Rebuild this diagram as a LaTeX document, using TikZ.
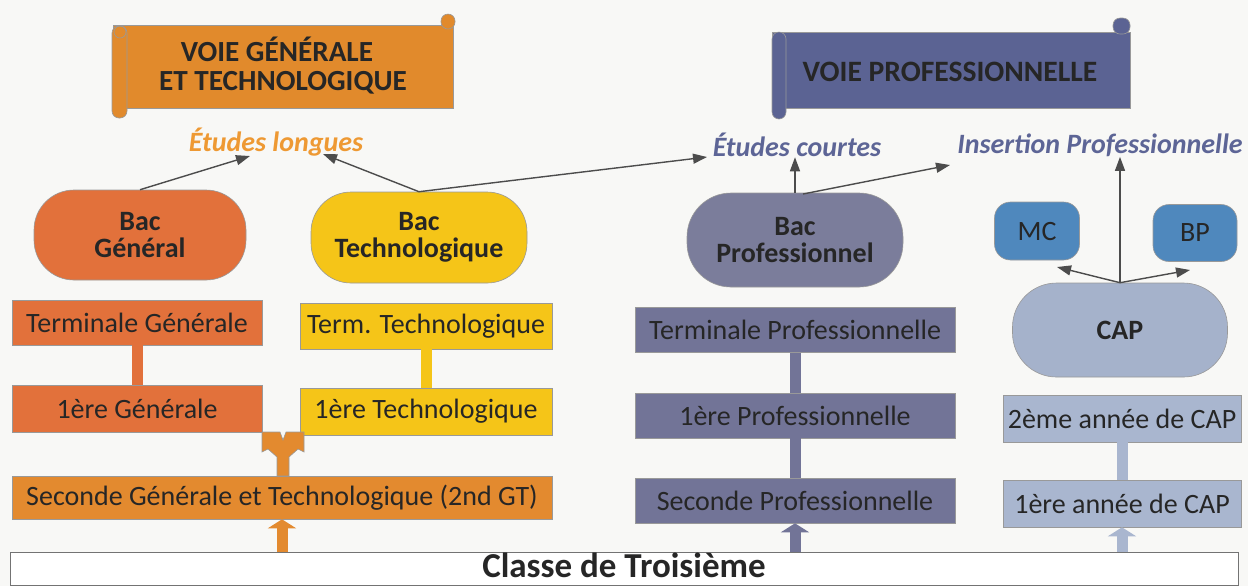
\documentclass[tikz,border=0pt]{standalone}
\usepackage{fontspec}
\setmainfont{Carlito}
\usetikzlibrary{arrows.meta}
\definecolor{bg}{HTML}{F8F8F6}
\definecolor{orng}{HTML}{E18A2C}
\definecolor{elong}{HTML}{EE9933}
\definecolor{redor}{HTML}{E2713B}
\definecolor{yel}{HTML}{F5C518}
\definecolor{sgt}{HTML}{E38A2F}
\definecolor{banblue}{HTML}{5B6393}
\definecolor{lblue}{HTML}{5D6596}
\definecolor{bacpro}{HTML}{7B7D9B}
\definecolor{pro}{HTML}{727497}
\definecolor{capc}{HTML}{A5B2CB}
\definecolor{capb}{HTML}{A9B6CF}
\definecolor{mcbp}{HTML}{4F88BD}
\definecolor{txt}{HTML}{262626}
\begin{document}
\begin{tikzpicture}[x=0.5pt,y=-0.5pt,
  box/.style={draw=black!40, line width=0.3pt, inner sep=0pt, anchor=center,
    font=\fontsize{14}{16}\selectfont, text=txt},
  bac/.style={box, rounded corners=20pt, align=center,
    font=\bfseries\fontsize{14}{13.5}\selectfont},
  lab/.style={inner sep=0pt, font=\bfseries\itshape\fontsize{14}{16}\selectfont},
  ban/.style={draw=black!40, line width=0.3pt},
  bantext/.style={inner sep=0pt, text=txt, font=\bfseries\fontsize{14.6}{16}\selectfont},
  arr/.style={draw=black!70, line width=0.7pt, -{Triangle[length=7pt,width=5pt]}},
  bar/.style={line width=5.5pt},
  upar/.style={line width=5.5pt, -{Triangle[length=4.5pt,width=14pt]}}
]
\useasboundingbox (0,0) rectangle (1248,586);
\fill[bg] (0,0) rectangle (1248,586);

% ---- banner: voie generale
\filldraw[ban, fill=orng] (113,25) rectangle (453,108);
\filldraw[ban, fill=orng, rounded corners=3.5pt] (441,14) rectangle (455,29);
\filldraw[ban, fill=orng, rounded corners=3.5pt] (112,26) rectangle (127,118);
\draw[black!40, line width=0.3pt] (120,32) circle (3pt);
\node[bantext, anchor=base] (VG1) at (277,61) {VOIE GÉNÉRALE};
\node[bantext, anchor=base] (VG2) at (283,90) {ET TECHNOLOGIQUE};

% ---- banner: voie professionnelle
\filldraw[ban, fill=banblue] (772,32) rectangle (1130,108);
\filldraw[ban, fill=banblue, rounded corners=3.5pt] (772,32) rectangle (786,119);
\filldraw[ban, fill=banblue, rounded corners=3.5pt] (1113,18) rectangle (1130,34);
\node[bantext, anchor=base, font=\bfseries\fontsize{14.8}{16}\selectfont] (VP) at (950,81) {VOIE PROFESSIONNELLE};

% ---- labels
\node[lab, text=elong] (EL) at (276,142) {Études longues};
\node[lab, text=lblue] (EC) at (797,145) {Études courtes};
\node[lab, text=lblue] (IP) at (1100,145) {Insertion Professionnelle};

% ---- bac nodes
\node[bac, fill=redor, minimum width=106pt, minimum height=45pt] (BG) at (140,235) {Bac\\Général};
\node[bac, fill=yel, minimum width=108pt, minimum height=45.5pt] (BT) at (419,237.5) {Bac\\Technologique};
\node[bac, fill=bacpro, minimum width=108pt, minimum height=47pt, rounded corners=22pt] (BPro) at (795,240) {Bac\\Professionnel};
\node[box, fill=mcbp, rounded corners=8pt, minimum width=42.5pt, minimum height=29pt] (MC) at (1037,231) {MC};
\node[box, fill=mcbp, rounded corners=8pt, minimum width=42pt, minimum height=28.5pt] (BP) at (1195,233) {BP};
\node[box, fill=capc, rounded corners=22pt, minimum width=107.5pt, minimum height=47pt,
  font=\bfseries\fontsize{14}{16}\selectfont] (CAP) at (1120,330) {CAP};

% ---- class boxes
\node[box, fill=redor, minimum width=125pt, minimum height=22.5pt] (TG) at (137,322.5) {Terminale Générale};
\node[box, fill=yel, minimum width=126pt, minimum height=23pt] (TT) at (426,326) {Term. Technologique};
\node[box, fill=redor, minimum width=125pt, minimum height=23.5pt] (G1) at (137,408.5) {1ère Générale};
\node[box, fill=yel, minimum width=126pt, minimum height=23.5pt] (T1) at (426,411.5) {1ère Technologique};
\node[box, fill=sgt, minimum width=270pt, minimum height=21.5pt] (SGT) at (282,497.5) {Seconde Générale et Technologique (2nd GT)};

\node[box, fill=pro, minimum width=160pt, minimum height=22.5pt] (TP) at (795,330) {Terminale Professionnelle};
\node[box, fill=pro, minimum width=160pt, minimum height=22.5pt] (P1) at (795,415.5) {1ère Professionnelle};
\node[box, fill=pro, minimum width=160pt, minimum height=22.5pt] (SP) at (795,500.5) {Seconde Professionnelle};

\node[box, fill=capb, minimum width=119pt, minimum height=23.5pt] (C2) at (1122,418.5) {2ème année de CAP};
\node[box, fill=capb, minimum width=119pt, minimum height=23.5pt] (C1) at (1122,503.5) {1ère année de CAP};

\node[box, fill=white, draw=black!55, line width=0.5pt, minimum width=614pt, minimum height=16.5pt,
  text height=11.5pt, text depth=2.5pt,
  font=\bfseries\fontsize{17.5}{19}\selectfont] (CL) at (624,568.5) {Classe de Troisième};

% ---- thick bars
\draw[bar, redor] (TG.south) -- (G1.north);
\draw[bar, yel] (TT.south) -- (T1.north);
\draw[bar, pro] (TP.south) -- (P1.north);
\draw[bar, pro] (P1.south) -- (SP.north);
\draw[bar, capb] (C2.south) -- (C1.north);

% ---- fork from seconde GT
\filldraw[fill=sgt, draw=black!40, line width=0.3pt]
  (277,476) -- (277,457) -- (268,449) -- (262,452) -- (262,432) -- (280,432)
  -- (283,440) -- (286,432) -- (304,432) -- (304,452) -- (298,449) -- (289,457)
  -- (289,476) -- cycle;

% ---- block arrows from Classe de Troisieme
\draw[upar, sgt] (CL.north -| SGT.south) -- (SGT.south);
\draw[upar, pro] (CL.north -| SP.south) -- (SP.south);
\draw[upar, capb] (CL.north -| C1.south) -- (C1.south);

% ---- arrow targets
\coordinate (t1) at (250,156);
\coordinate (t2) at (323,154);
\coordinate (t3) at (707,157);
\coordinate (t4) at (950,165);
\coordinate (t5) at (1057,267);
\coordinate (t6) at (1190,270);
\coordinate (s1) at (803,194);

% ---- connectors
\draw[arr] (BG.north) -- (t1);
\draw[arr] (BT.north) -- (t2);
\draw[arr] (BT.north) -- (t3);
\draw[arr] (BPro.north) -- (BPro.north |- EC.south);
\draw[arr] (s1) -- (t4);
\draw[arr] (CAP.north) -- (CAP.north |- IP.south);
\draw[arr] (CAP.north) -- (t5);
\draw[arr] (CAP.north) -- (t6);
\end{tikzpicture}
\end{document}
